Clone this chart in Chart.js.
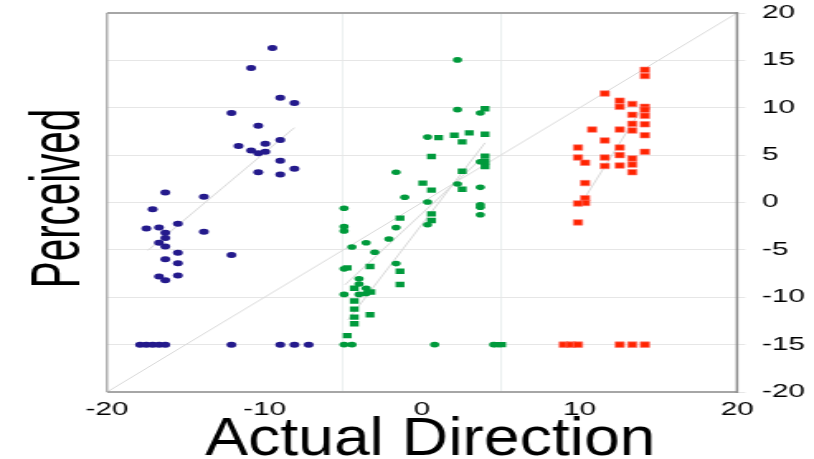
<!DOCTYPE html>
<html>
<head>
<meta charset="utf-8">
<script src="https://cdn.jsdelivr.net/npm/chart.js@4.4.1/dist/chart.umd.min.js"></script>
<style>
  html, body { margin: 0; padding: 0; background: #fff; overflow: hidden; }
  /* the original picture is stretched sideways, so draw narrow and stretch */
  #chart { display: block; transform: scaleX(1.6511); transform-origin: 0 0; }
</style>
</head>
<body>
<canvas id="chart" width="493" height="459"></canvas>
<script>
const xTitle = 'Actual Direction'
const yTitle = 'Perceived'
const xTicks = [-20, -10, 0, 10, 20]
const yTicks = [-20, -15, -10, -5, 0, 5, 10, 15, 20]

// blue ellipses
const blueX = [-9.5, -10.85, -9.0, -8.1, -12.1, -10.4, -9.0, -11.65, -9.95, -10.85, -10.4, -9.95, -9.0, -10.4, -9.0, -8.1,
  -16.3, -13.85, -17.1, -17.5, -16.7, -15.5, -16.3, -16.3, -13.85, -16.7, -16.3, -15.5, -16.3, -15.5, -12.1, -16.7, -16.3, -15.5,
  -17.9, -17.5, -17.1, -16.7, -16.3, -12.1, -9.0, -8.1, -7.2]
const blueY = [16.3, 14.2, 11.05, 10.5, 9.45, 8.1, 6.6, 5.95, 6.2, 5.5, 5.2, 5.35, 4.4, 3.2, 2.95, 3.55,
  1.05, 0.6, -0.7, -2.75, -2.65, -2.25, -3.2, -3.75, -3.1, -4.25, -4.65, -5.3, -6.0, -6.4, -5.55, -7.8, -8.2, -7.7,
  -15, -15, -15, -15, -15, -15, -15, -15, -15]

// green ellipses
const greenDotX = [2.25, 2.25, 3.7, 0.35, 3.7, -1.65, 2.25, 3.7, -1.1, 0.35, -4.95, 3.7, 3.7, 3.7, -4.95, -4.95, -1.65, 0.35,
  -4.45, -3.55, -2.1, -3.0, -4.95, -1.65, -4.0, -4.0, -3.55, -3.55, -4.95, -4.0,
  -4.95, -4.45, 0.8, 4.55]
const greenDotY = [15.05, 9.8, 9.45, 6.9, 4.3, 3.2, 1.95, 1.6, 0.55, 0.05, -0.6, -0.25, -0.5, -1.3, -2.55, -3.0, -2.65, -2.35,
  -4.7, -4.25, -3.85, -5.25, -7.0, -6.45, -8.05, -8.6, -9.05, -9.6, -9.7, -9.7,
  -15, -15, -15, -15]

// green rectangles
const greenBoxX = [4.0, 1.05, 2.05, 3.0, 4.0, 2.55, 0.6, 4.0, 4.0, 4.0, 2.55, 0.05, 0.6, 2.55, 0.6, 0.6, -1.4,
  -4.75, -3.3, -1.4, -1.4, -4.3, -3.25, -4.3, -4.3, -3.3, -4.3, -4.3, -4.75, 4.8, 5.05]
const greenBoxY = [9.9, 6.85, 7.1, 7.35, 7.2, 6.4, 4.85, 4.9, 4.3, 3.8, 3.3, 2.05, 1.3, 1.4, -1.2, -1.9, -1.65,
  -6.9, -6.75, -7.25, -8.65, -9.05, -9.45, -10.4, -11.25, -11.85, -12.1, -12.8, -14.05, -15, -15]

// red rectangles
const redX = [14.15, 14.15, 11.6, 12.55, 12.55, 13.35, 14.15, 14.15, 13.35, 14.15, 14.15, 10.8, 12.55, 13.35, 13.35, 14.15,
  11.6, 9.9, 12.55, 12.55, 14.15, 9.9, 11.6, 10.35, 13.35, 13.35, 11.6, 12.55, 13.35, 10.35, 10.35, 10.35, 9.9, 9.9,
  9.0, 9.45, 9.9, 12.55, 13.35, 14.15]
const redY = [14.0, 13.35, 11.5, 10.75, 10.1, 10.4, 10.1, 9.8, 9.25, 9.15, 8.25, 7.7, 7.7, 8.3, 7.6, 7.1,
  6.55, 5.8, 5.8, 5.0, 5.35, 4.75, 4.75, 4.2, 4.65, 4.0, 3.85, 3.9, 3.2, 2.05, 0.45, -0.05, -0.1, -2.1,
  -15, -15, -15, -15, -15, -15]

// thin grey lines: identity and the fitted lines
const diagLine = [[-20, -20], [20, 20]]
const blueFit = [[-17.4, -5.05], [-8.1, 7.9]]
const greenDotFit = [[-4.9, -8.7], [4.0, 5.0]]
const greenBoxFit = [[-4.7, -12.4], [4.0, 6.3]]
const redFit = [[9.95, -0.5], [13.9, 9.8]]

const toPoints = (xs, ys) => xs.map((x, i) => ({ x, y: ys[i] }))
const pairs = arr => arr.map(p => ({ x: p[0], y: p[1] }))

function lineSet(arr) {
  return {
    data: pairs(arr),
    showLine: true,
    pointRadius: 0,
    borderColor: '#d9d9d9',
    borderWidth: 1,
    fill: false,
    order: 5
  }
}

const framePlugin = {
  id: 'frame',
  afterDatasetsDraw(chart) {
    const { ctx, chartArea: a } = chart
    ctx.save()
    ctx.strokeStyle = '#a6a6a6'
    ctx.lineWidth = 2
    ctx.beginPath()
    ctx.moveTo(a.left, a.top)
    ctx.lineTo(a.right, a.top)
    ctx.moveTo(a.left, a.bottom)
    ctx.lineTo(a.right, a.bottom)
    ctx.stroke()
    ctx.lineWidth = 1.3
    ctx.beginPath()
    ctx.moveTo(a.left, a.top)
    ctx.lineTo(a.left, a.bottom)
    ctx.stroke()
    ctx.strokeStyle = '#8c8c8c'
    ctx.lineWidth = 1.5
    ctx.beginPath()
    ctx.moveTo(a.right, a.top - 1)
    ctx.lineTo(a.right, a.bottom + 1)
    ctx.stroke()
    ctx.restore()
  },
  afterDraw(chart) {
    const { ctx, chartArea: a } = chart
    ctx.save()
    ctx.fillStyle = '#000'
    ctx.textBaseline = 'alphabetic'
    ctx.textAlign = 'center'

    ctx.font = '53px "Liberation Sans", Arial, sans-serif'
    ctx.translate((a.left + a.right) / 2 + 5, 455)
    ctx.scale(0.735, 1)
    ctx.fillText(xTitle, 0, 0)
    ctx.restore()

    ctx.save()
    ctx.fillStyle = '#000'
    ctx.textBaseline = 'alphabetic'
    ctx.textAlign = 'center'
    ctx.font = '42px "Liberation Sans", Arial, sans-serif'
    ctx.translate(47.8, 198.5)
    ctx.rotate(-Math.PI / 2)
    ctx.scale(0.96, 1)
    ctx.fillText(yTitle, 0, 0)
    ctx.restore()
  }
}

new Chart(document.getElementById('chart'), {
  type: 'scatter',
  data: {
    datasets: [
      lineSet(diagLine),
      lineSet(blueFit),
      lineSet(greenDotFit),
      lineSet(greenBoxFit),
      lineSet(redFit),
      {
        data: toPoints(blueX, blueY),
        pointStyle: 'circle',
        pointRadius: 3,
        backgroundColor: '#241a8c',
        borderWidth: 0,
        order: 1
      },
      {
        data: toPoints(greenDotX, greenDotY),
        pointStyle: 'circle',
        pointRadius: 2.8,
        backgroundColor: '#009a3c',
        borderWidth: 0,
        order: 1
      },
      {
        data: toPoints(greenBoxX, greenBoxY),
        pointStyle: 'rect',
        pointRadius: 3.8,
        backgroundColor: '#009a3c',
        borderWidth: 0,
        order: 1
      },
      {
        data: toPoints(redX, redY),
        pointStyle: 'rect',
        pointRadius: 3.9,
        backgroundColor: '#ff2400',
        borderColor: 'rgba(255,120,110,0.8)',
        borderWidth: 0.8,
        order: 1
      }
    ]
  },
  options: {
    responsive: false,
    animation: false,
    events: [],
    layout: { padding: { left: 64.8, top: 13, right: 0, bottom: 0 } },
    plugins: { legend: { display: false }, tooltip: { enabled: false } },
    scales: {
      x: {
        type: 'linear',
        min: -20,
        max: 20,
        afterFit: s => { s.height = 67; s.paddingLeft = 0; s.paddingRight = 0 },
        afterBuildTicks: s => { s.ticks = [-20, -15, -10, -5, 0, 5, 10, 15, 20].map(value => ({ value })) },
        border: { display: false },
        grid: {
          drawTicks: false,
          lineWidth: 0.7,
          color: c => (c.tick && Math.abs(c.tick.value) === 5) ? '#e3eaea' : 'rgba(0,0,0,0)'
        },
        ticks: {
          padding: 7,
          maxRotation: 0,
          autoSkip: false,
          color: '#000',
          font: { family: '"Liberation Sans", Arial, sans-serif', size: 18 },
          callback: v => xTicks.includes(v) ? String(v) : ''
        }
      },
      y: {
        type: 'linear',
        position: 'right',
        min: -20,
        max: 20,
        afterFit: s => { s.width = 46.6; s.paddingTop = 0; s.paddingBottom = 0 },
        afterBuildTicks: s => { s.ticks = yTicks.map(value => ({ value })) },
        border: { display: false },
        grid: {
          tickLength: 5,
          color: c => (c.tick && Math.abs(c.tick.value) === 20) ? 'rgba(0,0,0,0)' : '#e6e6e6',
          tickColor: '#e6e6e6'
        },
        ticks: {
          padding: 10,
          autoSkip: false,
          color: '#000',
          font: { family: '"Liberation Sans", Arial, sans-serif', size: 18 },
          callback: v => String(v)
        }
      }
    }
  },
  plugins: [framePlugin]
})
</script>
</body>
</html>
